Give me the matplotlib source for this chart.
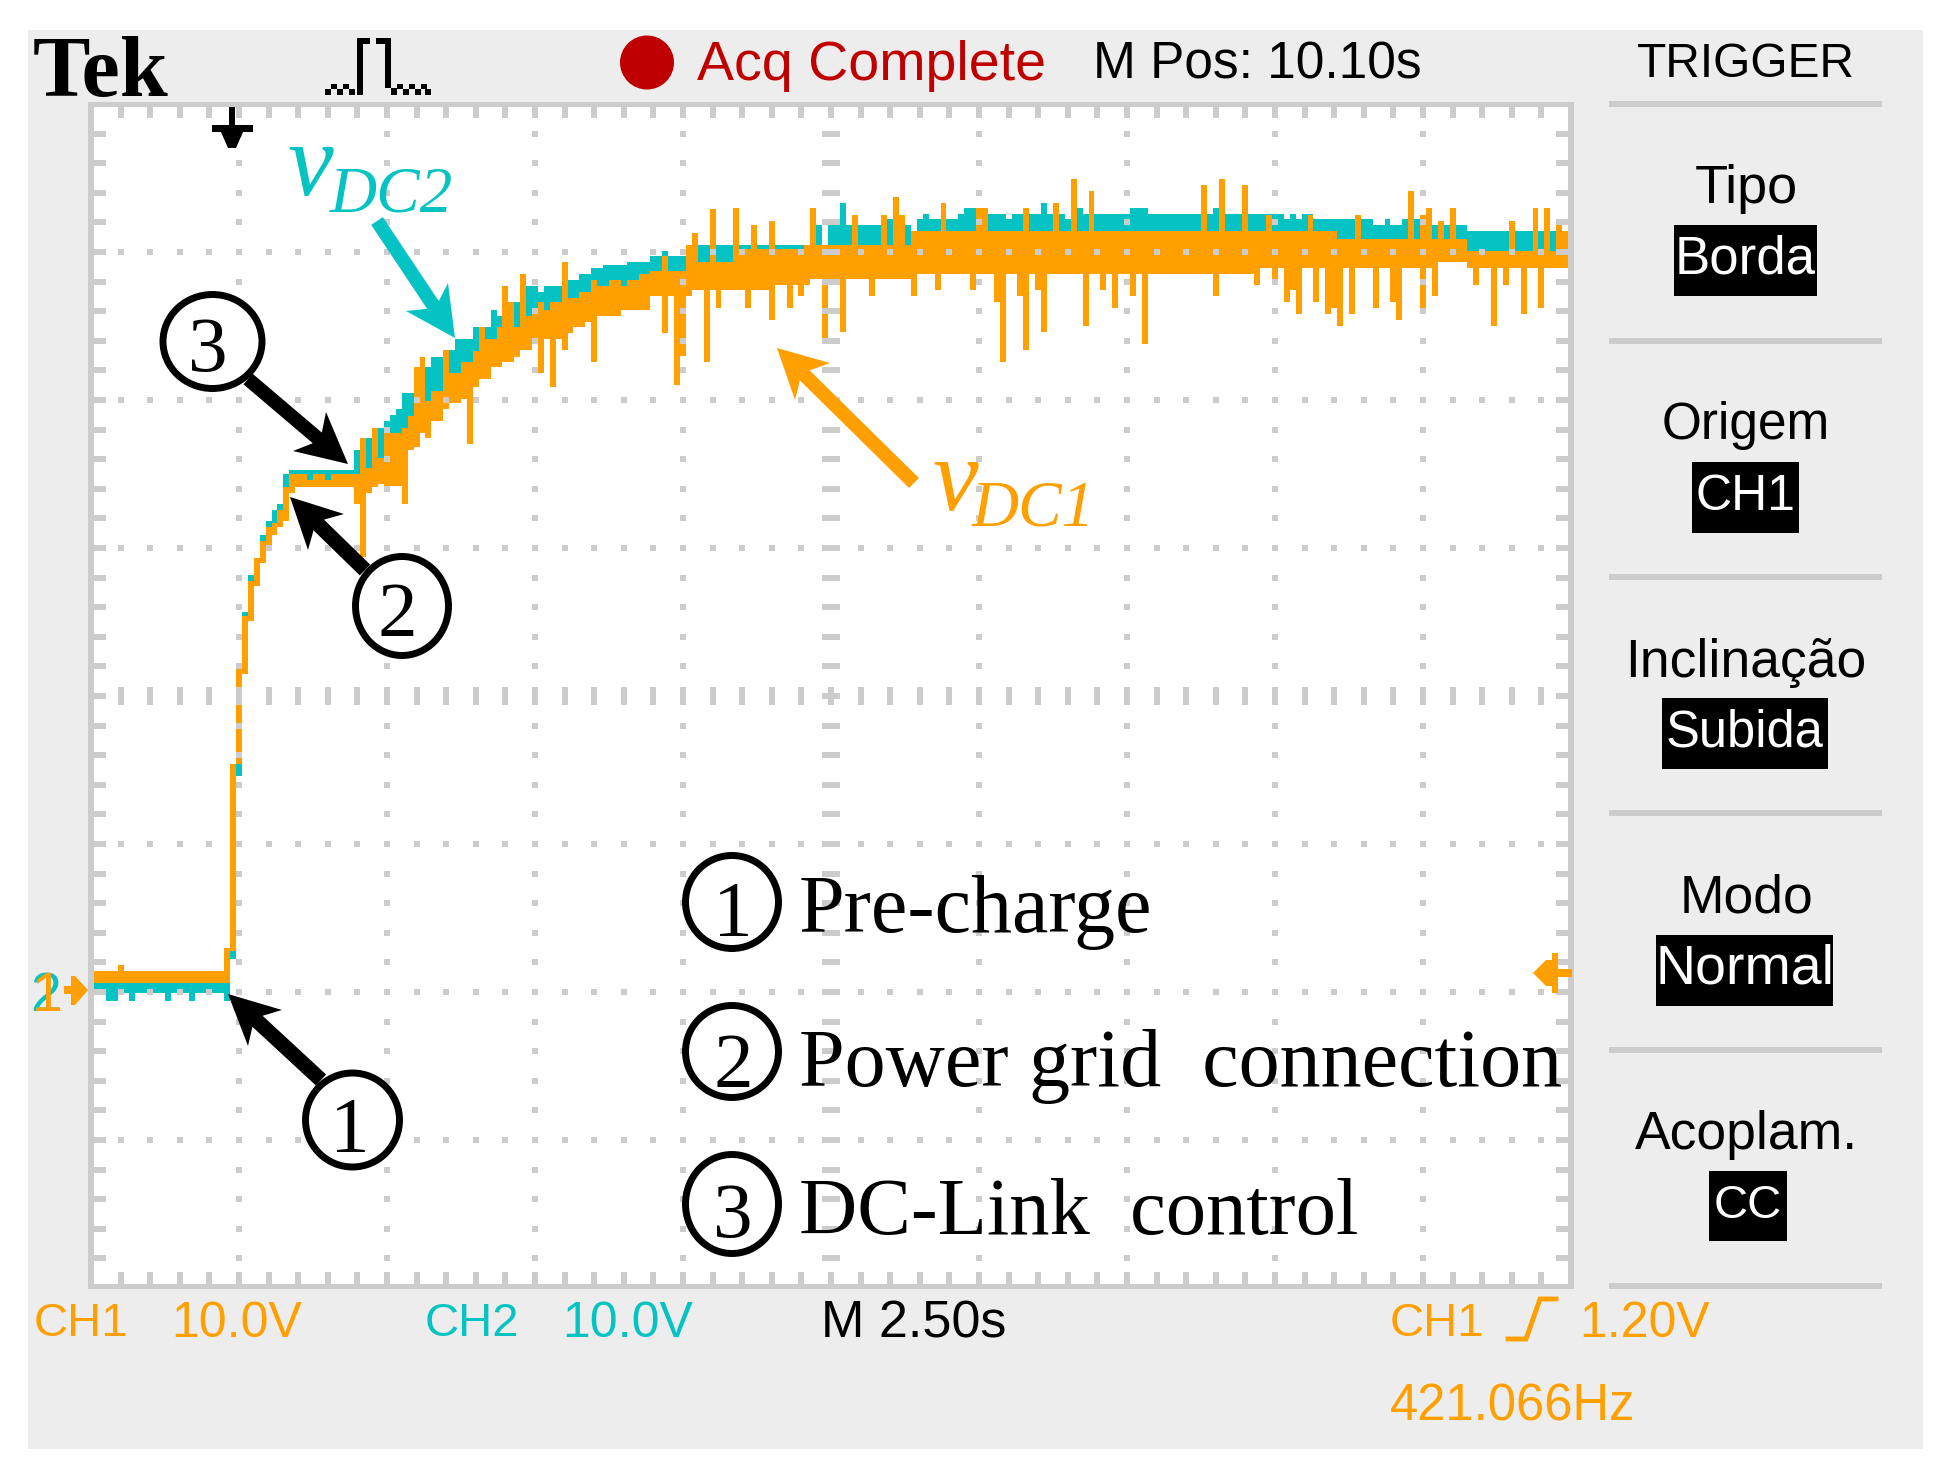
import matplotlib
matplotlib.use("Agg")
import matplotlib.pyplot as plt
from matplotlib.patches import Rectangle, Ellipse, Polygon
import numpy as np

# scope colours
BG = "#EDEDED"
GRID = "#CCCCCC"
ORANGE = "#FF9F00"
TEAL = "#05C3C3"
RED = "#C00000"

SCOPE_FONT = "Liberation Sans"
SERIF_FONT = "Liberation Serif"

## trace data, seconds and volts

# CH1 (vDC1) band
band_t = [0.0, 2.25, 2.35, 2.45, 2.55, 2.65, 2.75, 2.85, 2.95, 3.05, 3.15, 3.25, 3.35, 3.45,
          4.45, 4.55, 4.65, 4.75, 4.85, 4.95, 5.25, 5.35, 5.45, 5.55, 5.75, 5.95, 6.05, 6.25,
          6.45, 6.55, 6.75, 6.85, 6.95, 7.15, 7.25, 7.45, 7.55, 7.65, 7.75, 8.05, 8.15, 8.25,
          8.35, 8.45, 8.55, 8.75, 8.95, 9.05, 9.25, 9.45, 10.05, 10.15, 10.85, 11.45, 12.05,
          12.15, 13.85, 19.75, 21.05, 22.75, 23.25, 24.75, 24.95]
band_top = [1.4, 3.0, 15.4, 21.8, 25.4, 27.8, 29.3, 30.5, 31.4, 31.7, 32.6, 34.1, 35.0, 35.0,
            35.0, 35.5, 35.4, 35.9, 36.1, 37.8, 38.1, 38.9, 39.7, 39.9, 40.6, 41.4, 41.8, 42.6,
            43.3, 44.1, 44.1, 44.9, 44.9, 44.9, 45.7, 46.1, 46.6, 46.1, 46.6, 46.9, 46.9, 47.3,
            47.3, 48.1, 47.7, 48.1, 47.7, 48.1, 48.5, 48.7, 49.3, 49.3, 50.2, 50.2, 50.5,
            50.5, 51.4, 51.4, 50.9, 50.9, 50.1, 51.4, 51.4]
band_bot = [0.6, 0.6, 2.8, 15.4, 21.5, 25.1, 27.4, 29.0, 30.2, 30.9, 31.4, 31.8, 33.7, 34.1,
            33.0, 33.4, 33.7, 34.1, 34.3, 34.2, 33.4, 36.6, 36.8, 37.8, 38.6, 39.4, 39.8, 40.1,
            40.9, 41.4, 42.2, 42.2, 42.6, 42.9, 43.4, 44.1, 44.1, 44.1, 44.1, 44.5, 44.9, 44.9,
            45.3, 45.7, 45.7, 45.7, 46.1, 46.1, 46.1, 47.0, 47.0, 47.4, 47.4, 47.8, 47.8,
            48.2, 48.5, 48.9, 48.9, 49.3, 48.9, 48.9, 48.9]

# CH1 noise spikes
spike_up_t = [0.5, 4.6, 4.8, 5.5, 5.6, 6.0, 6.6, 7.0, 7.1, 7.3, 8.0, 9.7, 10.1, 10.2, 10.5, 10.9,
              11.2, 11.5, 12.2, 12.9, 13.4, 13.6, 13.7, 14.4, 15.0, 15.1, 15.8, 16.3, 16.6, 16.9,
              18.8, 19.1, 19.5, 19.9, 20.6, 21.4, 22.3, 22.5, 22.6, 22.8, 23.0, 24.0, 24.4, 24.6, 24.8]
spike_up_v = [1.8, 37.4, 38.1, 42.2, 42.9, 43.4, 44.9, 47.7, 46.6, 48.5, 49.3, 49.7, 50.5, 51.3, 52.9, 53.0,
              51.8, 52.1, 53.0, 52.5, 52.5, 53.7, 52.5, 53.3, 53.0, 53.0, 53.0, 53.3, 54.9, 54.1,
              54.5, 54.9, 54.5, 52.5, 52.5, 52.5, 54.1, 52.5, 53.0, 52.1, 53.0, 52.1, 53.0, 53.0, 52.1]
spike_dn_t = [4.6, 5.3, 5.7, 6.4, 7.6, 7.8, 8.0, 8.5, 9.7, 9.9, 10.0, 10.4, 10.6, 11.1, 11.5, 11.8,
              12.0, 12.4, 12.7, 13.2, 13.9, 14.3, 14.9, 15.3, 15.4, 15.7, 15.8, 16.0, 16.1, 16.8,
              17.1, 17.3, 17.6, 17.8, 19.0, 19.7, 20.0, 20.2, 20.3, 20.4, 20.7, 20.9, 21.0, 21.1,
              21.3, 21.7, 22.0, 22.1, 22.5, 22.7, 23.4, 23.7, 23.9, 24.2, 24.5]
spike_dn_v = [29.4, 33.0, 37.4, 37.0, 41.8, 40.9, 43.4, 42.6, 44.5, 41.0, 43.0, 42.6, 46.2, 46.2, 45.4, 46.2,
              47.0, 43.8, 44.6, 47.0, 47.0, 47.4, 47.4, 46.6, 42.6, 47.0, 43.4, 47.4, 44.6, 45.0,
              47.4, 46.2, 47.0, 43.8, 47.0, 47.8, 48.2, 46.6, 47.4, 45.8, 46.6, 45.8, 46.2, 45.0,
              45.8, 46.2, 46.6, 45.4, 46.2, 47.0, 47.8, 45.0, 47.8, 45.8, 46.2]

# CH2 (vDC2) upper edge
teal_t = [0.0, 2.35, 2.45, 2.55, 2.65, 2.75, 2.85, 2.95, 3.05, 3.15, 3.25, 3.35, 4.45, 4.55, 4.65,
          4.75, 4.85, 4.95, 5.05, 5.15, 5.25, 5.55, 5.65, 5.75, 6.05, 6.15, 6.45, 6.55, 6.65, 6.75,
          6.85, 6.95, 7.15, 7.25, 7.35, 7.55, 7.65, 8.05, 8.25, 8.45, 8.65, 9.05, 9.45, 9.65, 9.75,
          10.05, 12.25, 12.35, 12.45, 12.65, 12.75, 13.45, 13.55, 13.75, 13.85, 13.95, 14.05, 14.15,
          14.65, 14.75, 15.05, 15.45, 15.55, 16.05, 16.15, 16.45, 16.55, 16.65, 16.75, 17.55, 17.85,
          18.95, 19.05, 20.15, 20.25, 20.35, 20.45, 20.65, 21.65, 21.85, 21.95, 22.15, 22.45, 23.25, 24.95]
teal_top = [0.6, 2.8, 15.4, 25.7, 28.2, 29.3, 30.9, 31.8, 32.6, 33.0, 35.0, 35.3, 36.6, 35.5, 37.4,
            35.9, 38.1, 38.6, 39.0, 39.4, 40.5, 40.0, 42.2, 42.9, 43.4, 44.1, 44.9, 44.1, 44.9, 46.1,
            45.7, 44.9, 46.6, 45.7, 47.7, 47.3, 47.7, 48.1, 48.5, 48.9, 49.1, 49.3, 49.7, 50.1, 49.7,
            50.5, 51.8, 50.5, 51.8, 53.3, 51.8, 52.2, 51.4, 51.8, 51.4, 52.2, 52.6, 52.2,
            52.6, 53.0, 52.6, 52.2, 52.6, 53.3, 52.6, 52.2, 52.6, 53.0, 52.6, 53.0, 52.6,
            53.0, 52.6, 52.2, 52.6, 52.2, 52.6, 52.2, 51.8, 52.2, 51.8, 52.2, 51.8, 51.4, 51.4]
# CH2 lower edge before the band takes over, and its small dips
teal_low_t = [0.0, 2.35, 2.45]
teal_low_v = [-0.1, 2.2, 14.6]
teal_dip_t = [0.3, 0.4, 0.7, 1.3, 1.7, 2.3]
teal_dip_v = [-0.6, -0.6, -0.6, -0.6, -0.6, -0.6]
teal_notch_t = [3.7, 4.0]
teal_notch_v = [34.6, 34.6]


def lookup(tq, ts, vs):
    # value of a step trace at time tq
    return np.asarray(vs)[np.searchsorted(ts, tq, side="right") - 1]


## figure and screen axes
fig = plt.figure(figsize=(19.5, 14.77), dpi=100, facecolor="white")

# overlay in image pixels for the scope chrome
bg = fig.add_axes([0, 0, 1, 1], zorder=0)
bg.set_xlim(0, 1950)
bg.set_ylim(1477, 0)
bg.axis("off")
bg.add_patch(Rectangle((28, 30), 1895, 1419, fc=BG, ec="none"))
bg.add_patch(Rectangle((91, 104), 1480, 1184, fc="white", ec="none"))

ax = fig.add_axes([91 / 1950, 1 - 1288 / 1477, 1480 / 1950, 1184 / 1477], zorder=1)
ax.set_xlim(0, 25)
ax.set_ylim(-20, 60)
ax.axis("off")
ax.patch.set_alpha(0)

ov = fig.add_axes([0, 0, 1, 1], zorder=2)
ov.set_xlim(0, 1950)
ov.set_ylim(1477, 0)
ov.axis("off")
ov.patch.set_alpha(0)

## traces
# one scope column is 0.1 s, CH2 fill stops just under the top of CH1 so nothing shows below it
cols = np.append(0.0, np.arange(0.05, 24.96, 0.1))
teal_hi = lookup(cols, teal_t, teal_top)
teal_lo = lookup(cols, band_t, band_top) - 0.4
early = cols < 2.5
teal_lo[early] = lookup(cols[early], teal_low_t, teal_low_v)
ax.fill_between(cols, teal_lo, teal_hi, step="post", color=TEAL, lw=0, zorder=2)
ax.bar(teal_dip_t, teal_dip_v, 0.1, color=TEAL, lw=0, zorder=2)

ax.fill_between(band_t, band_bot, band_top, step="post", color=ORANGE, lw=0, zorder=3)
up_t = np.array(spike_up_t)
mid = (lookup(up_t, band_t, band_top) + lookup(up_t, band_t, band_bot)) / 2
ax.bar(up_t, np.array(spike_up_v) - mid, 0.1, bottom=mid, color=ORANGE, lw=0, zorder=3)
dn_t = np.array(spike_dn_t)
mid = (lookup(dn_t, band_t, band_top) + lookup(dn_t, band_t, band_bot)) / 2
ax.bar(dn_t, np.array(spike_dn_v) - mid, 0.1, bottom=mid, color=ORANGE, lw=0, zorder=3)
ax.bar(teal_notch_t, 35.1 - np.array(teal_notch_v), 0.1, bottom=teal_notch_v, color=TEAL, lw=0, zorder=4)


## graticule, drawn over the traces like on the scope
def rect(x0, y0, x1, y1, color=GRID, z=1):
    ov.add_patch(Rectangle((x0, y0), x1 - x0, y1 - y0, fc=color, ec="none", zorder=z))


xs = [91 + 29.6 * i for i in range(51)]
ys = [104 + 29.6 * i for i in range(41)]
for i, x in enumerate(xs[1:-1], 1):
    rect(x - 3, 107, x + 3, 118)
    rect(x - 3, 1272, x + 3, 1284)
    for j, y in enumerate(ys[1:-1], 1):
        if j == 20:
            rect(x - 3, y - 9, x + 3, y + 9)
        elif j % 5 == 0:
            rect(x - 3, y - 3, x + 3, y + 3)
for j, y in enumerate(ys[1:-1], 1):
    rect(94, y - 3, 106, y + 3)
    rect(1556, y - 3, 1568, y + 3)
    for i, x in enumerate(xs[1:-1], 1):
        if i == 25:
            rect(x - 9, y - 3, x + 9, y + 3)
        elif i % 5 == 0 and j % 5 != 0:
            rect(x - 3, y - 3, x + 3, y + 3)
# frame
rect(88, 102, 1574, 107)
rect(88, 1284, 1574, 1289)
rect(88, 102, 94, 1289)
rect(1568, 102, 1574, 1289)
# menu separators
for y in [104, 341, 577, 813, 1050, 1286]:
    rect(1609, y - 3, 1882, y + 3)


## text
def scope(x, y, s, size, color="black", ha="left"):
    # the scope font is tall and narrow, size is picked for width so centre it on the 46 px caps
    shift = (46 - size) / 2
    ov.text(x, y - shift, s, color=color, ha=ha, va="baseline", fontsize=size, family=SCOPE_FONT, zorder=5)


def serif(x, y, s, color="black", ha="left", size=57, style="normal", weight="normal"):
    ov.text(x, y, s, color=color, ha=ha, va="baseline", fontsize=size, family=SERIF_FONT,
            style=style, weight=weight, zorder=8)


serif(33, 96, "Tek", size=62, weight="bold")
scope(697, 83, "Acq Complete", 40, color=RED)
scope(1093, 83, "M Pos: 10.10s", 37)
ov.add_patch(Ellipse((647, 62.5), 54, 54, fc="#BF0000", ec="none", zorder=5))

scope(1746, 83, "TRIGGER", 34.5, ha="center")
menu_titles = ["Tipo", "Origem", "Inclinação", "Modo", "Acoplam."]
menu_title_y = [207, 444, 681, 916, 1153]
menu_title_size = [39, 37, 38.5, 38.5, 38.5]
menu_values = ["Borda", "CH1", "Subida", "Normal", "CC"]
menu_value_y = [278, 515, 751, 987, 1224]
menu_value_size = [38, 36, 36.5, 40, 34]
menu_boxes = [(1674, 225, 1817, 296), (1692, 462, 1799, 533), (1662, 698, 1828, 769),
              (1656, 935, 1833, 1006), (1709, 1171, 1787, 1241)]
for k in range(5):
    box = menu_boxes[k]
    scope(1746, menu_title_y[k], menu_titles[k], menu_title_size[k], ha="center")
    rect(box[0], box[1], box[2], box[3], color="black", z=4)
    scope((box[0] + box[2]) / 2, menu_value_y[k], menu_values[k], menu_value_size[k], color="white", ha="center")

scope(34, 1342, "CH1", 34, color=ORANGE)
scope(171, 1342, "10.0V", 36, color=ORANGE)
scope(425, 1342, "CH2", 34, color=TEAL)
scope(562, 1342, "10.0V", 36, color=TEAL)
scope(821, 1342, "M 2.50s", 37.5)
scope(1390, 1342, "CH1", 34, color=ORANGE)
scope(1579, 1342, "1.20V", 36, color=ORANGE)
scope(1390, 1425, "421.066Hz", 36.5, color=ORANGE)
# trigger slope sign
ov.plot([1508, 1526, 1540, 1556], [1339, 1339, 1299, 1299], color=ORANGE, lw=3.5, solid_joinstyle="miter", zorder=5)

# channel markers on the left
ov.text(30, 1011, "2", color=TEAL, fontsize=40, family=SCOPE_FONT, zorder=5)
ov.text(32, 1011, "1", color=ORANGE, fontsize=40, family=SCOPE_FONT, zorder=5)
ov.add_patch(Polygon([(88, 990), (75, 976), (71, 976), (71, 986), (64, 986), (64, 994), (71, 994), (71, 1005), (75, 1005)],
                     fc=ORANGE, ec="none", zorder=5))
# trigger level marker on the right
ov.add_patch(Polygon([(1533, 973), (1546, 960), (1552, 960), (1552, 953), (1558, 953), (1558, 969), (1572, 969),
                      (1572, 977), (1558, 977), (1558, 993), (1552, 993), (1552, 986), (1546, 986)],
                     fc=ORANGE, ec="none", zorder=5))
# trigger position marker on top
ov.add_patch(Polygon([(229, 107), (235, 107), (235, 125), (253, 125), (253, 132), (243, 132), (236, 148), (228, 148),
                      (221, 132), (212, 132), (212, 125), (229, 125)], fc="black", ec="none", zorder=5))

# record length icon
rect(357, 38, 363, 95, color="black", z=5)
rect(363, 38, 370, 44, color="black", z=5)
rect(376, 38, 385, 44, color="black", z=5)
rect(385, 38, 391, 88, color="black", z=5)
rect(391, 88, 397, 95, color="black", z=5)
for x in [325, 337, 349, 403, 415, 425]:
    rect(x, 89, x + 6, 95, color="black", z=5)
for x in [331, 343, 397, 409, 421]:
    rect(x, 84, x + 6, 89, color="black", z=5)


## arrows and circled numbers added on the oscilloscope picture
def arrow(tail, tip, wing1, wing2, width, color):
    tail = np.array(tail, float)
    tip = np.array(tip, float)
    d = (tip - tail) / np.linalg.norm(tip - tail)
    n = np.array([-d[1], d[0]]) * width / 2
    base = (np.array(wing1) + np.array(wing2)) / 2
    base = tip - d * np.dot(tip - base, d) * 0.8
    first = np.dot(np.array(wing1) - tip, n) > 0
    pts = [tail + n, base + n, wing1 if first else wing2, tip, wing2 if first else wing1, base - n, tail - n]
    ov.add_patch(Polygon(pts, fc=color, ec="none", zorder=6))


arrow((377, 221), (455, 338), (448, 283), (406, 311), 14, TEAL)
arrow((914, 483), (777, 348), (830, 363), (795, 400), 14, ORANGE)
arrow((248, 379), (348, 464), (326, 412), (293, 451), 14, "black")
arrow((365, 570), (290, 497), (344, 514), (308, 550), 15, "black")
arrow((321, 1080), (228, 994), (282, 1010), (248, 1046), 15, "black")


def circled(cx, cy, w, h, digit, dx, base):
    ov.add_patch(Ellipse((cx, cy), w - 7, h - 7, fc="white", ec="black", lw=5, zorder=7))
    serif(dx, base, digit, ha="center")


circled(212.5, 341.5, 106, 101, "3", 208, 371)
circled(402, 606, 100, 106, "2", 397, 636)
circled(352.5, 1120, 101, 101, "1", 350, 1151)
circled(732, 902, 100, 100, "1", 733, 935)
circled(732, 1051.5, 100, 99, "2", 733, 1087)
circled(732, 1204, 100, 106, "3", 733, 1237)

serif(799, 932, "Pre-charge", size=59)
serif(799, 1086, "Power grid  connection", size=59)
serif(799, 1234, "DC-Link  control", size=58)

serif(288, 195, "v", color=TEAL, size=74, style="italic")
serif(330, 211, "DC2", color=TEAL, size=47, style="italic")
serif(933, 510, "v", color=ORANGE, size=74, style="italic")
serif(972, 525, "DC1", color=ORANGE, size=47, style="italic")

fig.savefig("out.png", dpi=100, facecolor="white")
